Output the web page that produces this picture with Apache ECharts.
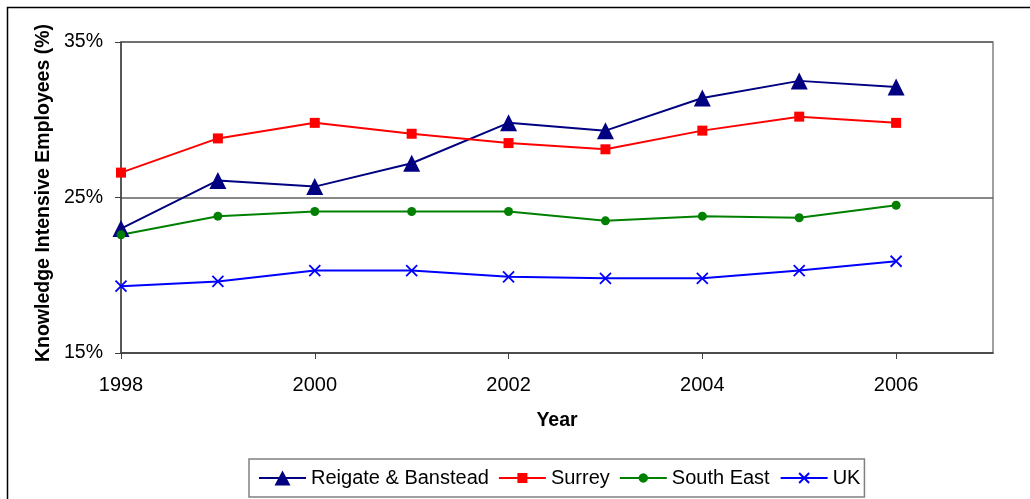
<!DOCTYPE html>
<html>
<head>
<meta charset="utf-8">
<title>Knowledge Intensive Employees</title>
<script src="https://cdn.jsdelivr.net/npm/echarts@6/dist/echarts.min.js"></script>
<style>
  html, body { margin: 0; padding: 0; background: #fff; }
  #chart { width: 1030px; height: 499px; }
</style>
</head>
<body>
<div id="chart"></div>
<script>
// Share of employees in knowledge intensive industries, 1998-2006 (%)
const years = [1998, 1999, 2000, 2001, 2002, 2003, 2004, 2005, 2006];
const reigateBanstead = [23.0, 26.1, 25.7, 27.2, 29.8, 29.3, 31.4, 32.5, 32.1];
const surrey = [26.6, 28.8, 29.8, 29.1, 28.5, 28.1, 29.3, 30.2, 29.8];
const southEast = [22.6, 23.8, 24.1, 24.1, 24.1, 23.5, 23.8, 23.7, 24.5];
const uk = [19.3, 19.6, 20.3, 20.3, 19.9, 19.8, 19.8, 20.3, 20.9];
const yearTicks = [1998, 2000, 2002, 2004, 2006];

const FONT = "'Liberation Sans', Arial, sans-serif";
const pairs = vals => years.map((y, i) => [y, vals[i]]);
const crossPath = 'path://M0,0L10,10M10,0L0,10';

// Legend keys: a line through a marker, drawn in a 47x18 box
// (the leading moves pin the box so every key keeps the same frame)
const FRAME = 'M0,0M47,18';
const keyLine = 'M0,8L47,8L47,10L0,10Z';
function dotPath(cx, cy, r) {
  let d = '';
  for (let i = 0; i < 24; i++) {
    const a = (i / 24) * Math.PI * 2;
    d += (i ? 'L' : 'M') + (cx + r * Math.cos(a)).toFixed(2) + ',' + (cy + r * Math.sin(a)).toFixed(2);
  }
  return d + 'Z';
}
const legendIcons = {
  'Reigate & Banstead': 'path://' + FRAME + keyLine + 'M15.5,16.5L23.5,1.5L31.5,16.5Z',
  'Surrey': 'path://' + FRAME + keyLine + 'M18.5,4L28.5,4L28.5,14L18.5,14Z',
  'South East': 'path://' + FRAME + keyLine + dotPath(23.5, 9, 4.7),
  'UK': 'path://' + FRAME + 'M0,9L47,9M18.5,4L28.5,14M28.5,4L18.5,14'
};

function lineSeries(name, vals, color, symbol, size, itemStyle) {
  return {
    name: name,
    type: 'line',
    data: pairs(vals),
    symbol: symbol,
    symbolSize: size,
    showAllSymbol: true,
    lineStyle: { color: color, width: 2 },
    itemStyle: itemStyle || { color: color, borderWidth: 0 },
    emphasis: { disabled: true },
    animation: false
  };
}

const chart = echarts.init(document.getElementById('chart'), null, { renderer: 'canvas' });
chart.setOption({
  backgroundColor: '#ffffff',
  textStyle: { fontFamily: FONT },
  grid: {
    left: 121, top: 42, right: 37, bottom: 146,
    show: true, borderColor: '#808080', borderWidth: 1.5, backgroundColor: 'transparent'
  },
  xAxis: {
    type: 'value',
    min: 1998, max: 2007, interval: 2,
    name: 'Year',
    nameLocation: 'middle',
    nameGap: 58,
    nameTextStyle: { fontFamily: FONT, fontSize: 19.5, fontWeight: 'bold', color: '#000' },
    axisLine: { show: true, lineStyle: { color: '#404040', width: 1.5 } },
    axisTick: { show: true, inside: false, length: 6, lineStyle: { color: '#404040' }, customValues: yearTicks },
    axisLabel: {
      fontFamily: FONT, fontSize: 20, color: '#000', margin: 22,
      customValues: yearTicks, formatter: v => String(v)
    },
    splitLine: { show: false }
  },
  yAxis: {
    type: 'value',
    min: 15, max: 35, interval: 10,
    axisLine: { show: true, lineStyle: { color: '#404040', width: 1.5 } },
    axisTick: { show: true, inside: false, length: 6, lineStyle: { color: '#404040' } },
    axisLabel: { fontFamily: FONT, fontSize: 19.5, color: '#000', margin: 18, formatter: v => v + '%' },
    splitLine: { show: true, lineStyle: { color: '#606060', width: 1.5 } }
  },
  legend: {
    left: 249, top: 459,
    orient: 'horizontal',
    padding: [9, 4, 9, 10],
    itemGap: 10,
    itemWidth: 47,
    itemHeight: 18,
    borderColor: '#808080',
    borderWidth: 1.5,
    textStyle: { fontFamily: FONT, fontSize: 20, color: '#000' },
    data: Object.keys(legendIcons).map(n => ({ name: n, icon: legendIcons[n] }))
  },
  graphic: [
    {
      type: 'rect',
      shape: { x: 7.5, y: 7.5, width: 1100, height: 600 },
      style: { fill: 'none', stroke: '#000', lineWidth: 1.5 },
      silent: true
    },
    {
      type: 'text',
      x: 44, y: 193,
      rotation: Math.PI / 2,
      style: {
        text: 'Knowledge Intensive Employees (%)',
        font: 'bold 19.5px ' + FONT,
        fill: '#000',
        textAlign: 'center',
        textVerticalAlign: 'middle'
      },
      silent: true
    }
  ],
  series: [
    lineSeries('Reigate & Banstead', reigateBanstead, '#000080', 'triangle', 17),
    lineSeries('Surrey', surrey, '#FF0000', 'rect', 10),
    lineSeries('South East', southEast, '#008000', 'circle', 9),
    lineSeries('UK', uk, '#0000FF', crossPath, 11,
      { color: '#0000FF', borderColor: '#0000FF', borderWidth: 1.8 })
  ]
});
</script>
</body>
</html>
